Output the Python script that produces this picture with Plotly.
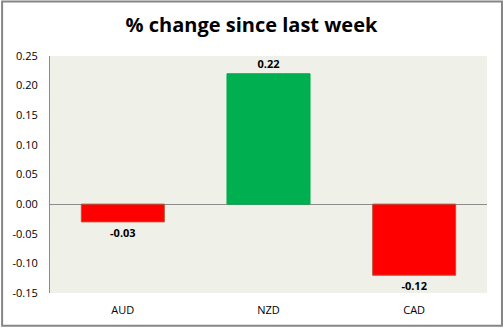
import plotly.graph_objects as go

categories = ["AUD", "NZD", "CAD"]
values = [-0.03, 0.22, -0.12]
bar_colors = ["#ff0000", "#00b050", "#ff0000"]
line_colors = ["#b5553a", "#00a84a", "#b5553a"]
labels = ["-0.03", "0.22", "-0.12"]
tick_vals = [0.25, 0.20, 0.15, 0.10, 0.05, 0.00, -0.05, -0.10, -0.15]
tick_text = ["0.25", "0.20", "0.15", "0.10", "0.05", "0.00", "-0.05", "-0.10", "-0.15"]

W, H = 503, 329
L, R, T, B = 49, 16, 56, 34

fig = go.Figure()
fig.add_trace(go.Bar(
    x=categories, y=values,
    marker=dict(color=bar_colors, line=dict(color=line_colors, width=1)),
    width=0.57,
    text=labels, textposition="outside",
    textfont=dict(family="Open Sans, Arial", size=11, color="#000000"),
    cliponaxis=False,
))
fig.update_traces(texttemplate="<b>%{text}</b>")

fig.update_layout(
    width=W, height=H,
    margin=dict(l=L, r=R, t=T, b=B),
    paper_bgcolor="white",
    plot_bgcolor="#eff1e9",
    showlegend=False,
    title=dict(text="<b>% change since last week</b>", x=0.5, xanchor="center",
               y=1 - 25 / H, yanchor="middle",
               font=dict(family="Open Sans, Arial", size=20, color="#000000")),
    xaxis=dict(showgrid=False, showline=False, ticks="", zeroline=False,
               ticklabelstandoff=9,
               tickfont=dict(family="Open Sans, Arial", size=11, color="#000000")),
    yaxis=dict(range=[-0.15, 0.25], tickvals=tick_vals, ticktext=tick_text,
               showgrid=False, zeroline=True, zerolinecolor="#8c8c8c", zerolinewidth=1,
               showline=True, linecolor="#8c8c8c", linewidth=1, ticks="",
               ticklabelstandoff=9,
               tickfont=dict(family="Open Sans, Arial", size=11, color="#000000")),
)

pw, ph = W - L - R, H - T - B
fig.add_shape(type="rect", xref="paper", yref="paper",
              x0=(1 - L) / pw, x1=(W - 1 - L) / pw,
              y0=-(B - 1) / ph, y1=1 + (T - 1) / ph,
              line=dict(color="#868686", width=2), layer="below")

fig.write_html("out.html")
